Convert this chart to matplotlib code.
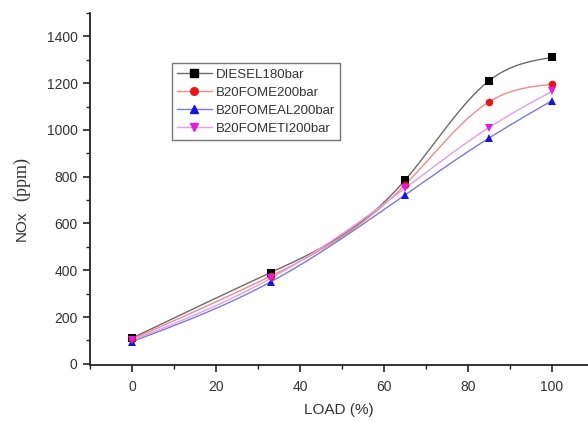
import numpy as np
import matplotlib
matplotlib.use("Agg")
import matplotlib.pyplot as plt
from matplotlib.ticker import MultipleLocator

# Engine load (%) and NOx emissions (ppm)
load = [0, 33, 65, 85, 100]
diesel180 = [110, 390, 785, 1210, 1310]
fome200 = [105, 375, 765, 1120, 1195]
fomeal200 = [95, 350, 722, 965, 1125]
fometi200 = [100, 365, 750, 1010, 1165]

labels = ["DIESEL180bar", "B20FOME200bar", "B20FOMEAL200bar", "B20FOMETI200bar"]
series = [diesel180, fome200, fomeal200, fometi200]
markers = ["s", "o", "^", "v"]
marker_colors = ["#000000", "#e41a1a", "#1515d8", "#e01ee0"]
line_colors = ["#6a6a6a", "#f08a8a", "#7a7ad8", "#e69be6"]


def natural_spline(x, y, n=200):
    """Smooth curve through the points (natural cubic spline)."""
    x = np.asarray(x, float)
    y = np.asarray(y, float)
    k = len(x)
    h = np.diff(x)
    A = np.zeros((k, k))
    b = np.zeros(k)
    A[0, 0] = A[-1, -1] = 1.0
    for i in range(1, k - 1):
        A[i, i - 1] = h[i - 1]
        A[i, i] = 2 * (h[i - 1] + h[i])
        A[i, i + 1] = h[i]
        b[i] = 6 * ((y[i + 1] - y[i]) / h[i] - (y[i] - y[i - 1]) / h[i - 1])
    M = np.linalg.solve(A, b)
    xs = np.linspace(x[0], x[-1], n)
    idx = np.clip(np.searchsorted(x, xs) - 1, 0, k - 2)
    x0, x1 = x[idx], x[idx + 1]
    hh = x1 - x0
    t0, t1 = x1 - xs, xs - x0
    ys = (M[idx] * t0 ** 3 + M[idx + 1] * t1 ** 3) / (6 * hh) \
        + (y[idx] / hh - M[idx] * hh / 6) * t0 \
        + (y[idx + 1] / hh - M[idx + 1] * hh / 6) * t1
    return xs, ys


plt.rcParams["font.family"] = ["Liberation Sans", "DejaVu Sans"]
text_color = "#333333"

fig = plt.figure(figsize=(5.88, 4.22), dpi=100)
ax = fig.add_axes([90 / 588, 57 / 422, 498 / 588, 352 / 422])

for vals, lab, mk, mc, lc in zip(series, labels, markers, marker_colors, line_colors):
    xs, ys = natural_spline(load, vals)
    ax.plot(xs, ys, color=lc, lw=1.0, zorder=2)
    ax.plot(load, vals, linestyle="none", marker=mk, color=mc,
            markersize=5.5, markeredgewidth=0, zorder=3)
    # legend proxy combining line and marker
    ax.plot([], [], color=lc, lw=1.0, marker=mk, markerfacecolor=mc,
            markeredgecolor=mc, markersize=5.5, label=lab)

ax.set_xlim(-10, 108.6)
ax.set_ylim(-5, 1500)
ax.xaxis.set_major_locator(MultipleLocator(20))
ax.xaxis.set_minor_locator(MultipleLocator(10))
ax.yaxis.set_major_locator(MultipleLocator(200))
ax.yaxis.set_minor_locator(MultipleLocator(100))
ax.set_yticks(range(0, 1401, 200))

for side in ("top", "right"):
    ax.spines[side].set_visible(False)
for side in ("left", "bottom"):
    ax.spines[side].set_color("#222222")
    ax.spines[side].set_linewidth(1.3)

ax.tick_params(which="major", direction="out", length=5, width=1.2,
               colors="#222222", labelsize=10, labelcolor=text_color, pad=4)
ax.tick_params(axis="x", which="major", pad=6)
ax.tick_params(which="minor", direction="out", length=3, width=1.0,
               colors="#222222")

ax.set_xlabel("LOAD (%)", fontsize=11, color=text_color, labelpad=6)

# y label: sans for the quantity, serif for the unit
fig.text(22 / 588, 1 - 226 / 422, "NOx", rotation=90, ha="center", va="center",
         fontsize=11, color=text_color, family="Liberation Sans")
fig.text(22 / 588, 1 - 179 / 422, "(ppm)", rotation=90, ha="center", va="center",
         fontsize=13, color=text_color, family="Liberation Serif")

leg = ax.legend(loc="upper left", bbox_to_anchor=(172 / 588, 1 - 63 / 422),
                bbox_transform=fig.transFigure, fontsize=9.5, frameon=True,
                fancybox=False, handlelength=2.6, handletextpad=0.3,
                labelspacing=0.45, borderpad=0.4, borderaxespad=0)
leg.get_frame().set_edgecolor("#555555")
leg.get_frame().set_linewidth(1.0)
for t in leg.get_texts():
    t.set_color(text_color)

fig.savefig("out.png", dpi=100)
